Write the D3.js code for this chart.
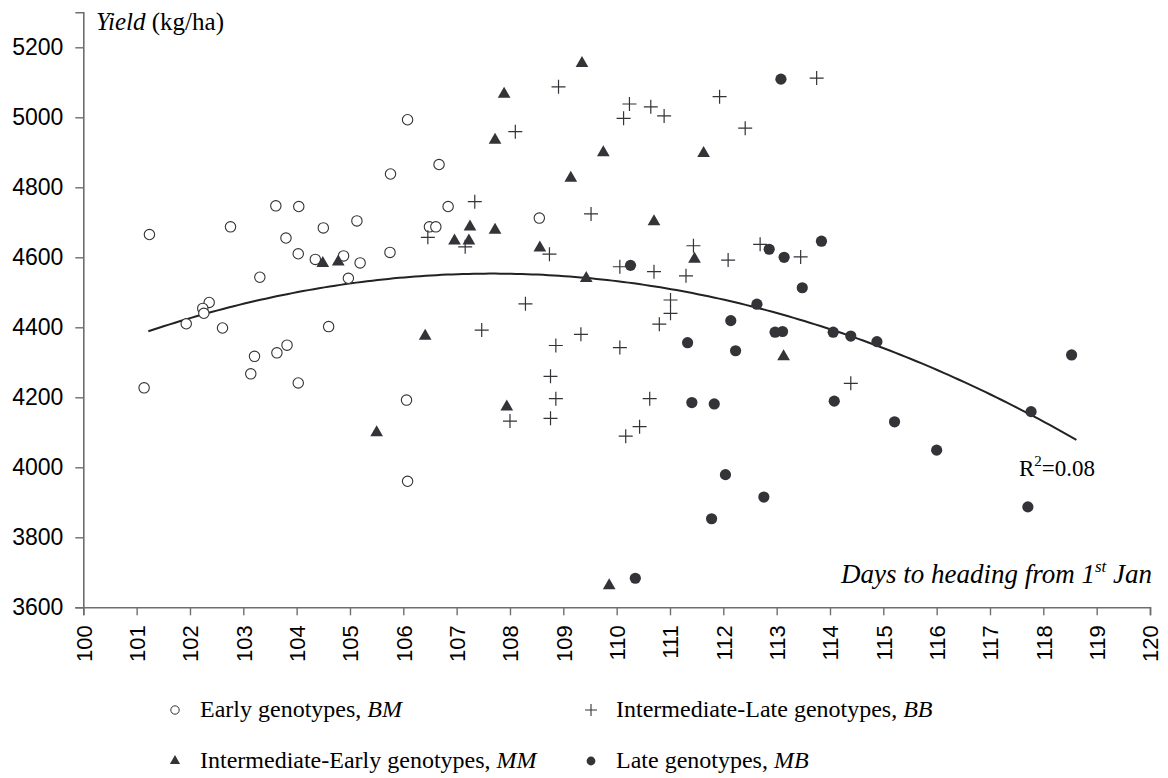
<!DOCTYPE html>
<html>
<head>
<meta charset="utf-8">
<script src="https://cdn.jsdelivr.net/npm/d3@7"></script>
<style>
  html, body { margin: 0; padding: 0; background: #fff; }
  svg { display: block; }
</style>
</head>
<body>
<svg id="chart" width="1168" height="778"></svg>
<script>
// Early genotypes (BM)
const earlyDays  = [101.24,102.76,103.61,104.04,103.80,104.03,104.50,104.35,104.88,105.19,104.97,105.13,103.31,102.36,102.24,102.26,105.75,105.76,106.08,106.67,106.84,106.49,106.61,101.14,101.93,102.61,103.14,103.21,103.63,103.82,104.03,104.60,106.06,106.08,108.55];
const earlyYield = [4665,4687,4747,4745,4655,4610,4684,4594,4604,4584,4540,4704,4543,4471,4454,4440,4614,4838,4993,4865,4745,4687,4687,4227,4410,4398,4267,4317,4327,4349,4241,4402,4192,3960,4712];

// Intermediate-Early genotypes (MM)
const interEarlyDays  = [109.35,107.89,107.72,109.75,109.14,111.63,107.25,107.72,106.96,107.23,108.56,110.70,111.46,109.43,113.13,107.94,109.86,104.49,104.78,106.41,105.50];
const interEarlyYield = [5154,5066,4935,4899,4826,4897,4687,4678,4647,4647,4627,4702,4595,4540,4316,4173,3662,4583,4587,4375,4099];

// Intermediate-Late genotypes (BB)
const interLateDays  = [108.91,108.10,110.24,110.13,110.64,110.89,111.93,112.41,107.34,109.52,106.46,107.16,108.74,111.44,110.06,110.70,111.30,112.09,112.69,108.29,111.01,111.01,113.75,113.45,114.39,107.47,109.33,108.86,110.06,110.80,108.76,108.86,108.76,108.00,110.62,110.43,110.17];
const interLateYield = [5087,4959,5038,4997,5030,5004,5059,4969,4759,4724,4657,4630,4609,4633,4573,4559,4547,4592,4637,4467,4478,4440,5112,4601,4240,4392,4380,4348,4342,4409,4260,4196,4140,4132,4196,4116,4089];

// Late genotypes (MB)
const lateDays  = [113.08,110.26,112.86,113.14,112.63,113.84,113.48,112.14,112.97,113.11,111.33,112.23,111.41,111.83,112.04,112.76,111.78,110.35,114.06,114.39,114.88,118.53,117.77,114.08,115.21,116.00,117.71];
const lateYield = [5109,4577,4623,4600,4466,4646,4513,4419,4386,4388,4356,4333,4185,4181,3979,3915,3853,3683,4386,4375,4359,4321,4159,4189,4130,4049,3887];

// Quadratic trend line: yield = a*d^2 + b*d + c, fitted over all genotypes
const trendA = -3.96, trendB = 852.75, trendC = -41354.6;
const trendRange = [101.22, 118.65];
const trendLabel = "0.08";

// Axis ticks
const xTicks = d3.range(100, 121, 1);
const yTicks = [3600, 3800, 4000, 4200, 4400, 4600, 4800, 5000, 5200];

const SERIF = "Liberation Serif";
const SANS = "Liberation Sans";

const svg = d3.select("#chart");
const markColor = "#333338";
const axisColor = "#6e6e6e";

const x = d3.scaleLinear().domain([100, 120]).range([83.3, 1150]);
const y = d3.scaleLinear().domain([3600, 5300]).range([607.3, 12.3]);

// Y axis
const yAxis = svg.append("g")
  .attr("transform", "translate(83.3,0)")
  .call(d3.axisLeft(y).tickValues(yTicks).tickSize(8).tickPadding(12).tickFormat(d3.format("d")));
yAxis.select(".domain").attr("stroke", axisColor).attr("stroke-width", 1.6);
yAxis.selectAll(".tick line").attr("stroke", axisColor).attr("stroke-width", 1.4);
yAxis.selectAll(".tick text")
  .attr("font-family", SANS).attr("font-size", 23).attr("fill", "#000");

// X axis
const xAxis = svg.append("g")
  .attr("transform", "translate(0,607.3)")
  .call(d3.axisBottom(x).tickValues(xTicks).tickSize(8).tickFormat(d3.format("d")));
xAxis.select(".domain").attr("stroke", axisColor).attr("stroke-width", 1.6);
xAxis.selectAll(".tick line").attr("stroke", axisColor).attr("stroke-width", 1.4);
xAxis.selectAll(".tick text")
  .attr("font-family", SANS).attr("font-size", 22).attr("fill", "#000")
  .attr("transform", "rotate(-90)")
  .attr("text-anchor", "end")
  .attr("x", -18)
  .attr("y", 0)
  .attr("dy", "0.36em");

// Axis titles
const yTitle = svg.append("text").attr("font-family", SERIF).attr("x", 96).attr("y", 30).attr("font-size", 25);
yTitle.append("tspan").attr("font-style", "italic").text("Yield");
yTitle.append("tspan").text(" (kg/ha)");

const xTitle = svg.append("text").attr("font-family", SERIF)
  .attr("x", 1152).attr("y", 583).attr("text-anchor", "end")
  .attr("font-size", 27).attr("font-style", "italic");
xTitle.append("tspan").text("Days to heading from 1");
xTitle.append("tspan").attr("dy", -11).attr("font-size", 17).text("st");
xTitle.append("tspan").attr("dy", 11).text(" Jan");

// Trend line
const trendPts = d3.range(trendRange[0], trendRange[1] + 0.001, 0.1).map(d => [d, trendA * d * d + trendB * d + trendC]);
svg.append("path")
  .datum(trendPts)
  .attr("fill", "none")
  .attr("stroke", "#222")
  .attr("stroke-width", 2)
  .attr("d", d3.line().x(p => x(p[0])).y(p => y(p[1])));

const r2 = svg.append("text").attr("font-family", SERIF).attr("x", 1019).attr("y", 476).attr("font-size", 23);
r2.append("tspan").text("R");
r2.append("tspan").attr("dy", -10).attr("font-size", 15).text("2");
r2.append("tspan").attr("dy", 10).text("=" + trendLabel);

// Markers
const pts = (dx, dy) => dx.map((d, i) => ({ d: d, v: dy[i] }));
const plot = svg.append("g");

plot.selectAll(".early").data(pts(earlyDays, earlyYield)).join("circle")
  .attr("cx", p => x(p.d)).attr("cy", p => y(p.v)).attr("r", 5.2)
  .attr("fill", "#fff").attr("stroke", markColor).attr("stroke-width", 1.1);

const plusPath = s => `M${-s},0H${s}M0,${-s}V${s}`;
plot.selectAll(".interLate").data(pts(interLateDays, interLateYield)).join("path")
  .attr("transform", p => `translate(${x(p.d)},${y(p.v)})`)
  .attr("d", plusPath(7)).attr("fill", "none").attr("stroke", markColor).attr("stroke-width", 1.2);

const tri = d3.symbol().type(d3.symbolTriangle).size(70);
plot.selectAll(".interEarly").data(pts(interEarlyDays, interEarlyYield)).join("path")
  .attr("transform", p => `translate(${x(p.d)},${y(p.v)})`)
  .attr("d", tri).attr("fill", markColor);

plot.selectAll(".late").data(pts(lateDays, lateYield)).join("circle")
  .attr("cx", p => x(p.d)).attr("cy", p => y(p.v)).attr("r", 5.6)
  .attr("fill", markColor);

// Legend
const legendItems = [
  { label: "Early genotypes, ", code: "BM", kind: "early", lx: 175, ly: 710 },
  { label: "Intermediate-Late genotypes, ", code: "BB", kind: "interLate", lx: 591, ly: 710 },
  { label: "Intermediate-Early genotypes, ", code: "MM", kind: "interEarly", lx: 175, ly: 761 },
  { label: "Late genotypes, ", code: "MB", kind: "late", lx: 591, ly: 761 }
];
const leg = svg.append("g");
legendItems.forEach(it => {
  const g = leg.append("g").attr("transform", `translate(${it.lx},${it.ly})`);
  if (it.kind === "early") g.append("circle").attr("r", 4.2).attr("fill", "#fff").attr("stroke", markColor).attr("stroke-width", 1);
  if (it.kind === "interLate") g.append("path").attr("d", plusPath(6)).attr("stroke", markColor).attr("stroke-width", 1.1);
  if (it.kind === "interEarly") g.append("path").attr("d", d3.symbol().type(d3.symbolTriangle).size(45)).attr("fill", markColor);
  if (it.kind === "late") g.append("circle").attr("r", 4.4).attr("fill", markColor);
  const t = g.append("text").attr("font-family", SERIF).attr("x", 25).attr("y", 7).attr("font-size", 24);
  t.append("tspan").text(it.label);
  t.append("tspan").attr("font-style", "italic").text(it.code);
});
</script>
</body>
</html>
